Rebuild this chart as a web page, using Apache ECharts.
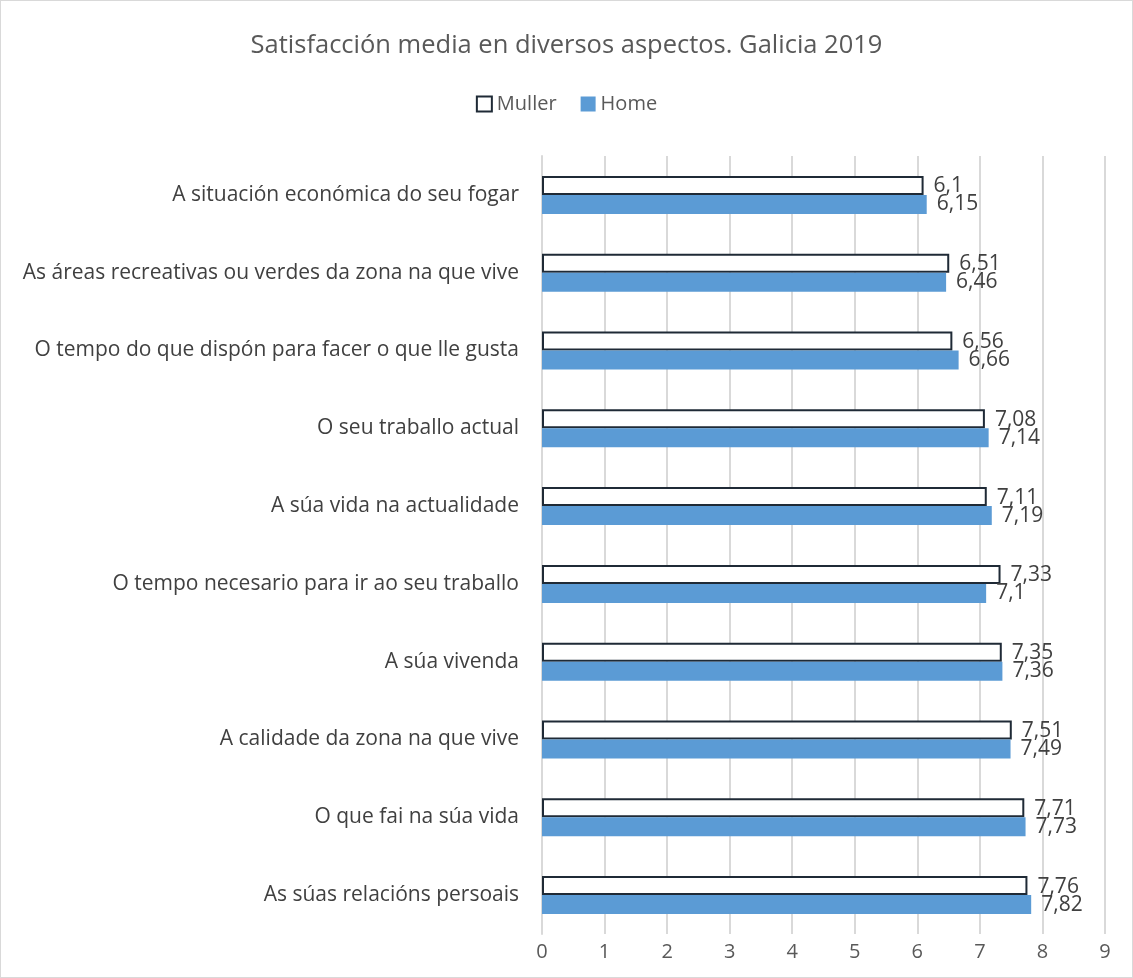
<!DOCTYPE html>
<html>
<head>
<meta charset="utf-8">
<script src="https://cdn.jsdelivr.net/npm/echarts@6/dist/echarts.min.js"></script>
<style>
  html, body { margin: 0; padding: 0; background: #fff; }
  #chart { width: 1133px; height: 978px; box-sizing: border-box; border: 1px solid #d9d9d9; }
</style>
</head>
<body>
<div id="chart"></div>
<script>
// categorías (de arriba abajo)
var categories = [
  'A situación económica do seu fogar',
  'As áreas recreativas ou verdes da zona na que vive',
  'O tempo do que dispón para facer o que lle gusta',
  'O seu traballo actual',
  'A súa vida na actualidade',
  'O tempo necesario para ir ao seu traballo',
  'A súa vivenda',
  'A calidade da zona na que vive',
  'O que fai na súa vida',
  'As súas relacións persoais'
];
var muller = [6.1, 6.51, 6.56, 7.08, 7.11, 7.33, 7.35, 7.51, 7.71, 7.76];
var home = [6.15, 6.46, 6.66, 7.14, 7.19, 7.1, 7.36, 7.49, 7.73, 7.82];

var textColor = '#404040';
var font = 'Open Sans';

function comma(p) {
  return String(p.value).replace('.', ',');
}

var chart = echarts.init(document.getElementById('chart'));
var option = {
  animation: false,
  textStyle: { fontFamily: font },
  title: {
    text: 'Satisfacción media en diversos aspectos. Galicia 2019',
    left: 'center',
    top: 27,
    textStyle: { fontFamily: font, fontSize: 25.5, fontWeight: 'normal', color: '#595959' }
  },
  legend: {
    top: 88,
    left: 'center',
    icon: 'rect',
    itemWidth: 15,
    itemHeight: 15,
    itemGap: 24,
    textStyle: { fontFamily: font, fontSize: 20, color: '#595959' },
    data: [
      { name: 'Muller', itemStyle: { color: '#fff', borderColor: '#1f2a36', borderWidth: 2 } },
      { name: 'Home', itemStyle: { color: '#5b9bd5' } }
    ]
  },
  grid: { left: 541, right: 27, top: 155, bottom: 43, containLabel: false },
  xAxis: {
    type: 'value',
    min: 0,
    max: 9,
    interval: 1,
    axisLine: { show: false },
    axisTick: { show: false },
    axisLabel: { fontFamily: font, fontSize: 20, color: '#595959', margin: 8 },
    splitLine: { lineStyle: { color: '#d9d9d9', width: 2 } }
  },
  yAxis: {
    type: 'category',
    inverse: true,
    data: categories,
    axisLine: { show: true, lineStyle: { color: '#d9d9d9', width: 2 } },
    axisTick: { show: false },
    axisLabel: { fontFamily: font, fontSize: 21, color: textColor, margin: 23 }
  },
  series: [
    {
      name: 'Muller',
      type: 'bar',
      data: muller,
      barWidth: 19,
      barGap: '0%',
      itemStyle: { color: '#fff', borderColor: '#1f2a36', borderWidth: 2 },
      label: { show: true, position: 'right', distance: 10, offset: [0, 1], fontFamily: font, fontSize: 21, color: textColor, formatter: comma }
    },
    {
      name: 'Home',
      type: 'bar',
      data: home,
      barWidth: 19,
      barGap: '0%',
      itemStyle: { color: '#5b9bd5' },
      label: { show: true, position: 'right', distance: 10, offset: [0, 0], fontFamily: font, fontSize: 21, color: textColor, formatter: comma }
    }
  ]
};
chart.setOption(option);
</script>
</body>
</html>
